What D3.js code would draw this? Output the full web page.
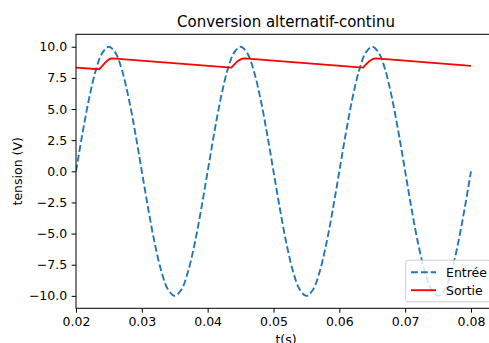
<!DOCTYPE html>
<html><head><meta charset="utf-8">
<script src="https://cdn.jsdelivr.net/npm/d3@7"></script>
<style>
body{margin:0;background:#fff;}
svg{display:block;font-family:"DejaVu Sans",sans-serif;}
</style></head>
<body>
<svg id="c" width="489" height="343"></svg>
<script>
const title = "Conversion alternatif-continu";
const xLabel = "t(s)";
const yLabel = "tension (V)";
const seriesNames = ["Entrée", "Sortie"];

const xTicks = [0.02, 0.03, 0.04, 0.05, 0.06, 0.07, 0.08];
const xTickLabels = ["0.02", "0.03", "0.04", "0.05", "0.06", "0.07", "0.08"];
const yTicks = [-10, -7.5, -5, -2.5, 0, 2.5, 5, 7.5, 10];
const yTickLabels = ["\u221210.0", "\u22127.5", "\u22125.0", "\u22122.5", "0.0", "2.5", "5.0", "7.5", "10.0"];

// Entrée (input) samples
const entreeT = [
 0.020,0.021,0.022,0.023,0.024,0.025,0.026,0.027,0.028,0.029,
 0.030,0.031,0.032,0.033,0.034,0.035,0.036,0.037,0.038,0.039,
 0.040,0.041,0.042,0.043,0.044,0.045,0.046,0.047,0.048,0.049,
 0.050,0.051,0.052,0.053,0.054,0.055,0.056,0.057,0.058,0.059,
 0.060,0.061,0.062,0.063,0.064,0.065,0.066,0.067,0.068,0.069,
 0.070,0.071,0.072,0.073,0.074,0.075,0.076,0.077,0.078,0.079,
 0.080];
const entreeV = [
 0, 3.09, 5.88, 8.09, 9.51, 10, 9.51, 8.09, 5.88, 3.09,
 0, -3.09, -5.88, -8.09, -9.51, -10, -9.51, -8.09, -5.88, -3.09,
 0, 3.09, 5.88, 8.09, 9.51, 10, 9.51, 8.09, 5.88, 3.09,
 0, -3.09, -5.88, -8.09, -9.51, -10, -9.51, -8.09, -5.88, -3.09,
 0, 3.09, 5.88, 8.09, 9.51, 10, 9.51, 8.09, 5.88, 3.09,
 0, -3.09, -5.88, -8.09, -9.51, -10, -9.51, -8.09, -5.88, -3.09,
 0];

// Sortie (output) samples
const sortieT = [0.0200, 0.0235, 0.0240, 0.0245, 0.0249, 0.0252, 0.0255,
                 0.0436, 0.0441, 0.0446, 0.0450, 0.0453, 0.0456,
                 0.0636, 0.0641, 0.0646, 0.0650, 0.0653, 0.0656,
                 0.0800];
const sortieV = [8.32, 8.19, 8.47, 8.76, 8.95, 9.04, 9.07,
                 8.32, 8.60, 8.86, 8.99, 9.05, 9.07,
                 8.32, 8.60, 8.86, 8.99, 9.05, 9.07,
                 8.47];

const svg = d3.select("#c");
const L = 76, R = 496, T = 34.3, B = 308.3;
const x = d3.scaleLinear().domain([0.02, 0.0838]).range([L, R]);
const y = d3.scaleLinear().domain([-11, 11]).range([B, T]);

svg.append("defs").append("clipPath").attr("id","clip")
  .append("rect").attr("x",L).attr("y",T).attr("width",R-L).attr("height",B-T);

const entree = entreeT.map((t,i)=>[t, entreeV[i]]);
const sortie = sortieT.map((t,i)=>[t, sortieV[i]]);

const g = svg.append("g").attr("clip-path","url(#clip)");
g.append("path").datum(entree)
  .attr("fill","none").attr("stroke","#1f77b4").attr("stroke-width",1.875)
  .attr("stroke-dasharray","6.9,3")
  .attr("d", d3.line().x(d=>x(d[0])).y(d=>y(d[1])).curve(d3.curveCatmullRom.alpha(0.5)));
g.append("path").datum(sortie)
  .attr("fill","none").attr("stroke","#ff0000").attr("stroke-width",1.875)
  .attr("stroke-linejoin","round")
  .attr("d", d3.line().x(d=>x(d[0])).y(d=>y(d[1])));

// axes
const xAxis = d3.axisBottom(x).tickValues(xTicks).tickFormat((d,i)=>xTickLabels[i]).tickSize(4.4).tickPadding(4.4).tickSizeOuter(0);
const yAxis = d3.axisLeft(y).tickValues(yTicks).tickFormat((d,i)=>yTickLabels[i]).tickSize(4.4).tickPadding(4.4).tickSizeOuter(0);
const gx = svg.append("g").attr("transform",`translate(0,${B})`).call(xAxis);
const gy = svg.append("g").attr("transform",`translate(${L},0)`).call(yAxis);
[gx,gy].forEach(a=>{
  a.select(".domain").remove();
  a.selectAll(".tick line").attr("stroke","#000").attr("stroke-width",1);
  a.selectAll(".tick text").attr("fill","#000").style("font-size","12.5px").style("font-family","DejaVu Sans");
});
// spines
svg.append("rect").attr("x",L).attr("y",T).attr("width",R-L).attr("height",B-T)
  .attr("fill","none").attr("stroke","#000").attr("stroke-width",1);

// labels
svg.append("text").attr("x",(L+R)/2).attr("y",27).attr("text-anchor","middle")
  .style("font-size","15px").text(title);
svg.append("text").attr("x",(L+R)/2).attr("y",343+1).attr("text-anchor","middle")
  .style("font-size","12.5px").text(xLabel);
svg.append("text").attr("transform",`translate(21.5,${(T+B)/2}) rotate(-90)`).attr("text-anchor","middle")
  .style("font-size","12.5px").text(yLabel);

// legend
const lg = svg.append("g");
const lx = 405.7, ly = 260.2, lw = 84.5, lh = 41.7;
lg.append("rect").attr("x",lx).attr("y",ly).attr("width",lw).attr("height",lh).attr("rx",2.5)
  .attr("fill","#fff").attr("fill-opacity",0.8).attr("stroke","#cccccc").attr("stroke-width",1);
const legendY = [272.3, 290.2];
const styles = [{c:"#1f77b4",dash:"6.9,3"},{c:"#ff0000",dash:null}];
seriesNames.forEach((n,i)=>{
  const ln = lg.append("line").attr("x1",411).attr("x2",436).attr("y1",legendY[i]).attr("y2",legendY[i])
    .attr("stroke",styles[i].c).attr("stroke-width",1.875);
  if(styles[i].dash) ln.attr("stroke-dasharray",styles[i].dash);
  lg.append("text").attr("x",446).attr("y",legendY[i]).attr("dy","0.36em")
    .style("font-size","12.5px").text(n);
});
</script>
</body></html>
